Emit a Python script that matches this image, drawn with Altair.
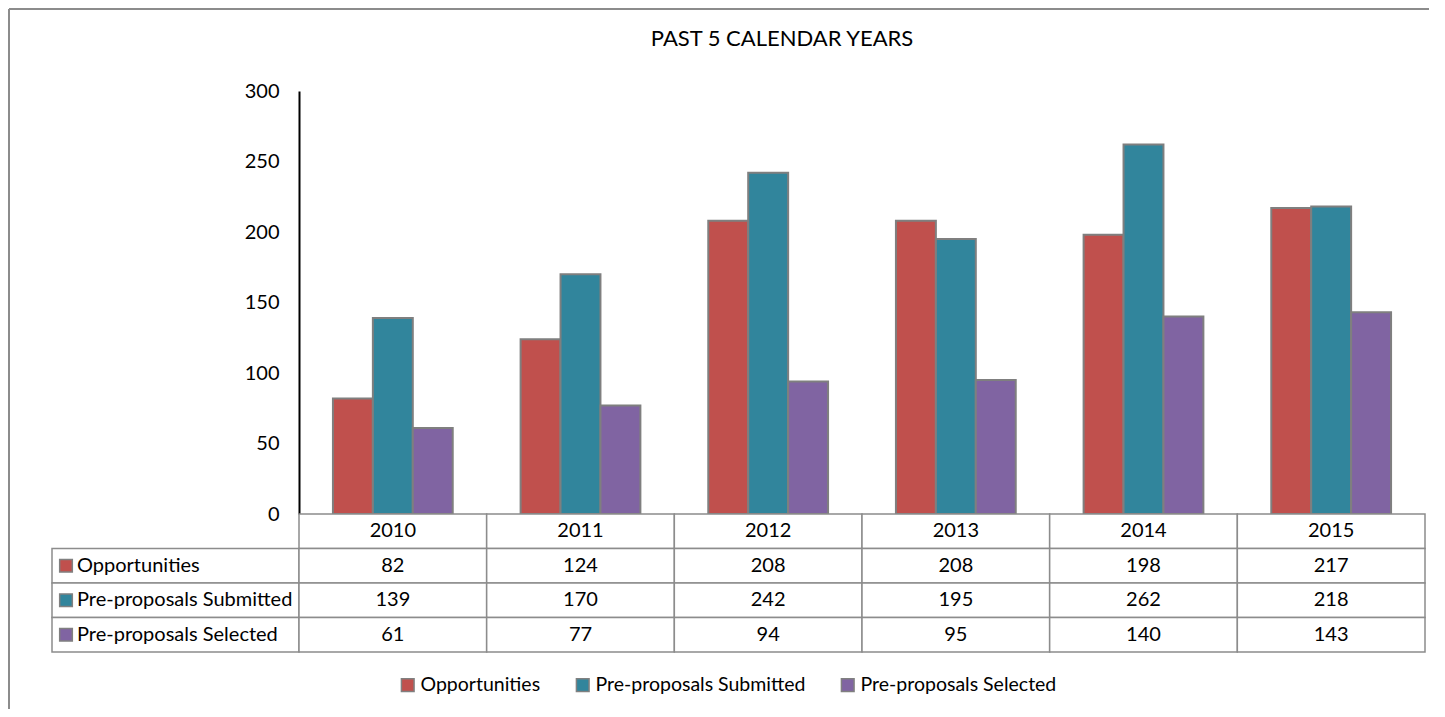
import altair as alt
import pandas as pd

years = ["2010", "2011", "2012", "2013", "2014", "2015"]
series = ["Opportunities", "Pre-proposals Submitted", "Pre-proposals Selected"]
opportunities = [82, 124, 208, 208, 198, 217]
submitted = [139, 170, 242, 195, 262, 218]
selected = [61, 77, 94, 95, 140, 143]
colors = ["#C0504D", "#31859C", "#8064A2"]
y_ticks = [0, 50, 100, 150, 200, 250, 300]
title_text = "PAST 5 CALENDAR YEARS"

FONT = "Lato"
FS = 20
GRID = "#8c8c8c"

values_by_series = {series[0]: opportunities, series[1]: submitted, series[2]: selected}

bars_df = pd.DataFrame(
    [{"year": y, "series": s, "value": values_by_series[s][i]}
     for s in series for i, y in enumerate(years)]
)

row_domain = ["header"] + series
table_rows = [{"year": y, "row": "header", "text": y} for y in years]
for s in series:
    for i, y in enumerate(years):
        table_rows.append({"year": y, "row": s, "text": str(values_by_series[s][i])})
table_df = pd.DataFrame(table_rows)
labels_df = pd.DataFrame({"row": series, "series": series})
frame_df = pd.DataFrame({"k": [0]})

color_scale = alt.Scale(domain=series, range=colors)
legend = alt.Legend(
    title=None, orient="none", direction="horizontal", legendX=346, legendY=584,
    symbolType="square", symbolSize=160, symbolStrokeColor="#808080",
    symbolStrokeWidth=1.5, labelFontSize=19.5, labelFont=FONT, labelColor="black",
    columnPadding=32, labelOffset=3, labelLimit=400,
)

W_PLOT = 1126
H_PLOT = 423
W_LAB = 247
H_TAB = 138

# spacer with outer frame lines
spacer = alt.layer(
    alt.Chart(frame_df).mark_rule(color=GRID, strokeWidth=2).encode(
        x=alt.value(-43), y=alt.value(-82), y2=alt.value(618)),
    alt.Chart(frame_df).mark_rule(color=GRID, strokeWidth=2).encode(
        x=alt.value(-43), x2=alt.value(1377), y=alt.value(-82)),
).properties(width=W_LAB, height=H_PLOT)

bars = alt.Chart(bars_df).mark_bar(stroke="#7f7f7f", strokeWidth=2).encode(
    x=alt.X("year:N", sort=years, axis=None,
            scale=alt.Scale(paddingInner=0, paddingOuter=0)),
    xOffset=alt.XOffset("series:N", sort=series,
                        scale=alt.Scale(paddingOuter=0.85, paddingInner=0)),
    y=alt.Y("value:Q", scale=alt.Scale(domain=[0, 300], nice=False),
            axis=alt.Axis(title=None, values=y_ticks, ticks=False, grid=False,
                          domainColor="black", domainWidth=2, labelPadding=20,
                          labelFontSize=FS, labelFont=FONT, labelColor="black")),
    color=alt.Color("series:N", scale=color_scale, sort=series, legend=legend),
).properties(
    width=W_PLOT, height=H_PLOT,
    title=alt.TitleParams(title_text, anchor="middle", dx=-80, offset=30,
                          fontSize=22, font=FONT, fontWeight="normal", color="black"),
)

ybase = alt.Y("row:N", sort=row_domain, axis=None,
              scale=alt.Scale(domain=row_domain, paddingInner=0, paddingOuter=0))

label_cells = alt.Chart(labels_df).mark_rect(
    fill="white", stroke=GRID, strokeWidth=1.5).encode(y=ybase)
label_swatch = alt.Chart(labels_df).mark_square(
    size=160, stroke="#808080", strokeWidth=1.5, opacity=1).encode(
    y=ybase, x=alt.value(14),
    color=alt.Color("series:N", scale=color_scale, sort=series, legend=legend))
label_text = alt.Chart(labels_df).mark_text(
    align="left", font=FONT, fontSize=FS, color="black").encode(
    y=ybase, x=alt.value(25), text="row:N")
labels_chart = alt.layer(label_cells, label_swatch, label_text).properties(
    width=W_LAB, height=H_TAB)

xtab = alt.X("year:N", sort=years, axis=None,
             scale=alt.Scale(domain=years, paddingInner=0, paddingOuter=0))
value_cells = alt.Chart(table_df).mark_rect(
    fill="white", stroke=GRID, strokeWidth=1.5).encode(x=xtab, y=ybase)
value_text = alt.Chart(table_df).mark_text(
    font=FONT, fontSize=FS, color="black").encode(x=xtab, y=ybase, text="text:N")
values_chart = alt.layer(value_cells, value_text).properties(
    width=W_PLOT, height=H_TAB)

chart = alt.concat(
    spacer, bars, labels_chart, values_chart,
    columns=2, spacing=0, bounds="flush",
).resolve_scale(
    x="independent", y="independent", color="shared"
).properties(
    padding={"left": 0, "top": 0, "right": 0, "bottom": 0},
    background="white",
).configure_view(stroke=None)

chart.save("out.html", embed_options={"renderer": "svg", "actions": False})
